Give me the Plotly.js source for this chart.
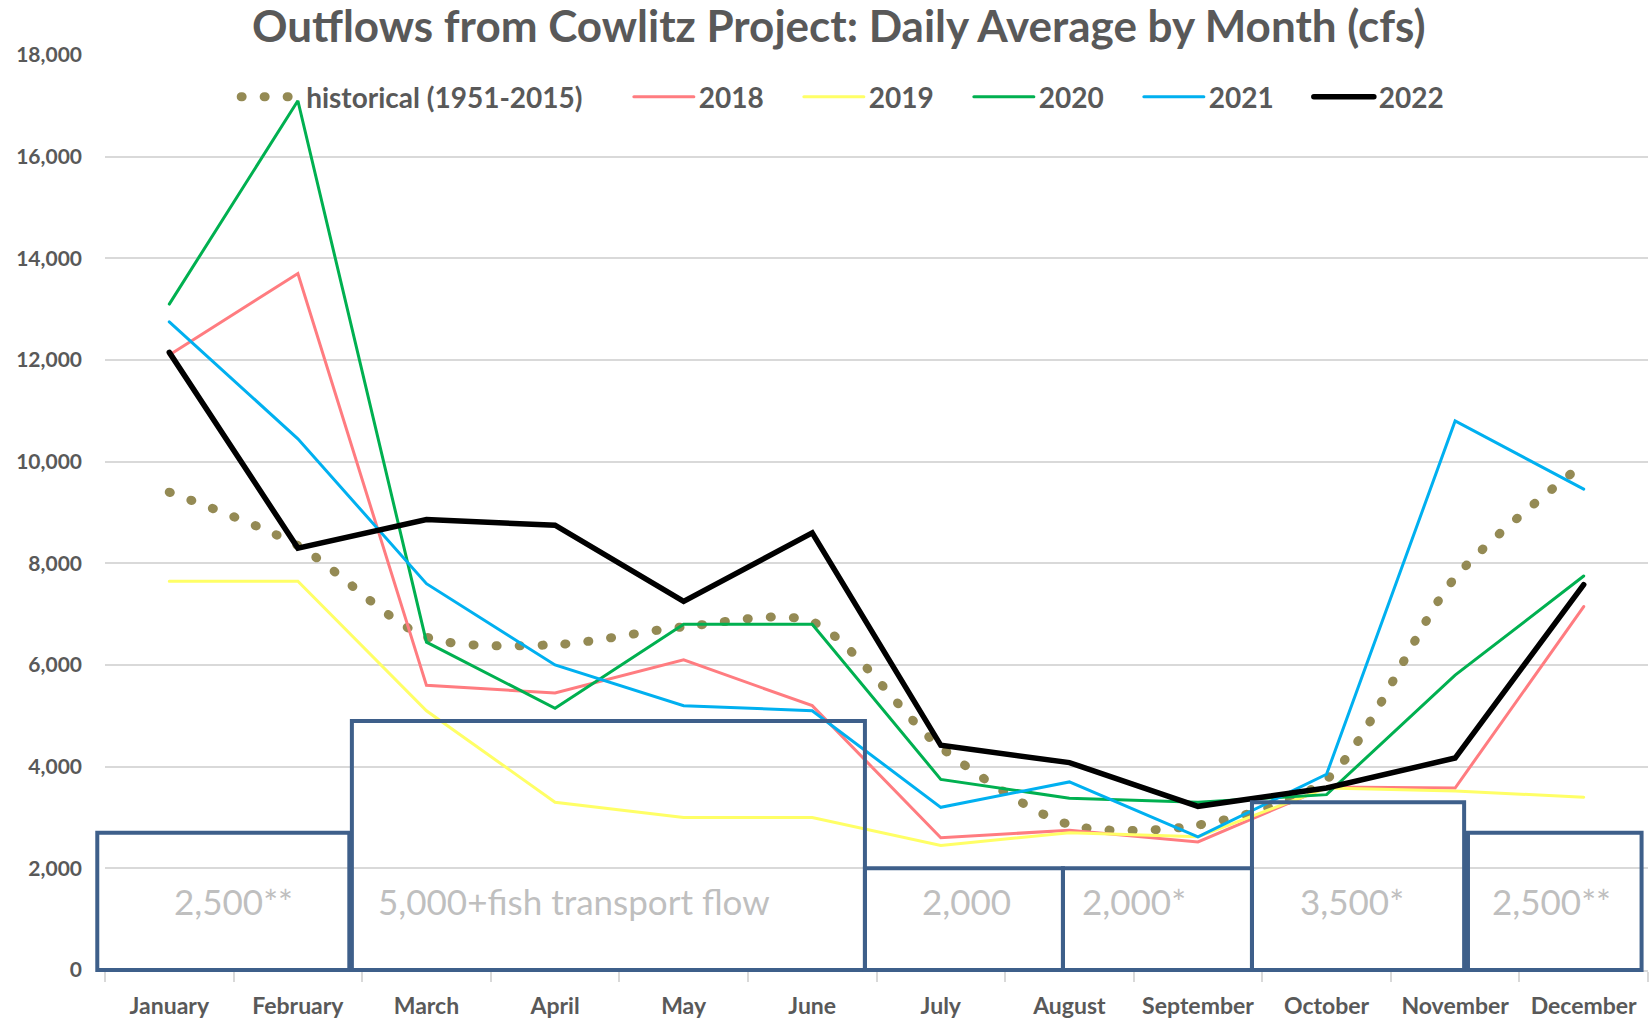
<!DOCTYPE html>
<html>
<head>
<meta charset="utf-8">
<script src="https://cdn.plot.ly/plotly-3.0.1.min.js"></script>
<style>
  body { margin: 0; background: #fff; }
  #chart { width: 1651px; height: 1023px; }
  .js-line { stroke-linecap: round; }
</style>
</head>
<body>
<div id="chart"></div>
<script>
// months on the x axis
const months = ['January', 'February', 'March', 'April', 'May', 'June',
  'July', 'August', 'September', 'October', 'November', 'December'];

// daily average outflow by month (cfs)
const historical = [9400, 8350, 6550, 6400, 6750, 6850, 4380, 2860, 2850, 3750, 7720, 9960];
const y2018 = [12100, 13700, 5600, 5450, 6100, 5200, 2600, 2750, 2520, 3600, 3580, 7150];
const y2019 = [7650, 7650, 5100, 3300, 3000, 3000, 2450, 2700, 2620, 3580, 3520, 3400];
const y2020 = [13100, 17100, 6450, 5150, 6800, 6800, 3750, 3380, 3300, 3450, 5800, 7750];
const y2021 = [12750, 10450, 7600, 6000, 5200, 5100, 3200, 3700, 2620, 3850, 10800, 9460];
const y2022 = [12150, 8300, 8860, 8750, 7250, 8600, 4420, 4080, 3220, 3580, 4170, 7580];

// minimum flow boxes drawn on the chart
const boxLabels = ['2,500**', '5,000+fish transport flow', '2,000', '2,000*', '3,500*', '2,500**'];
const boxTops = [2700, 4900, 2000, 2000, 3300, 2700];
const boxStart = [-0.56, 1.42, 5.41, 6.95, 8.42, 10.10];
const boxEnd = [1.40, 5.41, 6.95, 8.42, 10.07, 11.45];
const boxLabelAt = [0.5, 3.15, 6.2, 7.5, 9.2, 10.75];

const gray = '#595959';
const font = 'Lato, "Open Sans", sans-serif';
const yMax = 18000;

function series(name, y, color, width) {
  return {
    x: months, y: y, name: name, type: 'scatter', mode: 'lines', legend: 'legend2',
    line: { color: color, width: width }
  };
}

const traces = [
  {
    x: months, y: historical, name: 'historical (1951-2015)', type: 'scatter', mode: 'lines',
    legend: 'legend',
    line: { color: '#948A54', width: 9, dash: '1px,22px', shape: 'spline', smoothing: 0.8 }
  },
  series('2018', y2018, '#FF7C80', 3),
  series('2019', y2019, '#FFFF66', 3),
  series('2020', y2020, '#00B050', 3),
  series('2021', y2021, '#00B0F0', 3),
  series('2022', y2022, '#000000', 5.5)
];

// category index -> paper fraction
const px = i => (i + 0.5) / months.length;

const shapes = boxLabels.map((_, i) => ({
  type: 'rect', xref: 'paper', yref: 'paper', layer: 'above',
  x0: px(boxStart[i]), x1: px(boxEnd[i]),
  y0: 0, y1: boxTops[i] / yMax,
  line: { color: '#3E5F8A', width: 4 },
  fillcolor: 'rgba(0,0,0,0)'
}));

const annotations = boxLabels.map((t, i) => ({
  text: t, xref: 'paper', yref: 'y', x: px(boxLabelAt[i]), y: 1350,
  showarrow: false, xanchor: 'center', yanchor: 'middle',
  font: { family: font, size: 35, color: '#BFBFBF' }
}));

const legendFont = { family: font, size: 28, color: gray, weight: 'bold' };

const layout = {
  width: 1651, height: 1023,
  margin: { l: 105, r: 3, t: 55, b: 53 },
  paper_bgcolor: '#fff', plot_bgcolor: '#fff',
  title: {
    text: 'Outflows from Cowlitz Project: Daily Average by Month (cfs)',
    x: 0.508, xref: 'container', xanchor: 'center',
    y: 0.974, yref: 'container', yanchor: 'middle',
    font: { family: font, size: 44, color: gray, weight: 'bold' }
  },
  showlegend: true,
  legend: {
    orientation: 'h', x: 0.085, xanchor: 'left', y: 0.954, yanchor: 'middle',
    bgcolor: 'rgba(0,0,0,0)', itemwidth: 60,
    font: legendFont
  },
  legend2: {
    orientation: 'h', x: 0.3395, xanchor: 'left', y: 0.954, yanchor: 'middle',
    bgcolor: 'rgba(0,0,0,0)', traceorder: 'normal', itemwidth: 60, entrywidth: 95,
    font: legendFont
  },
  xaxis: {
    type: 'category', range: [-0.5, 11.5], fixedrange: true,
    showgrid: false, zeroline: false,
    showline: true, linecolor: '#D9D9D9', linewidth: 2,
    ticks: 'outside', tickson: 'boundaries', ticklen: 10, tickcolor: '#D9D9D9', tickwidth: 2,
    ticklabelstandoff: 14,
    tickfont: { family: font, size: 23, color: gray, weight: 'bold' }
  },
  yaxis: {
    range: [0, yMax], dtick: 2000, tickformat: ',d', fixedrange: true,
    showgrid: true, gridcolor: '#D9D9D9', gridwidth: 2,
    zeroline: false, showline: false, ticks: '',
    ticklabelstandoff: 22,
    tickfont: { family: font, size: 21, color: gray, weight: 'bold' }
  },
  shapes: shapes,
  annotations: annotations
};

Plotly.newPlot('chart', traces, layout, { displayModeBar: false, staticPlot: true });
</script>
</body>
</html>
